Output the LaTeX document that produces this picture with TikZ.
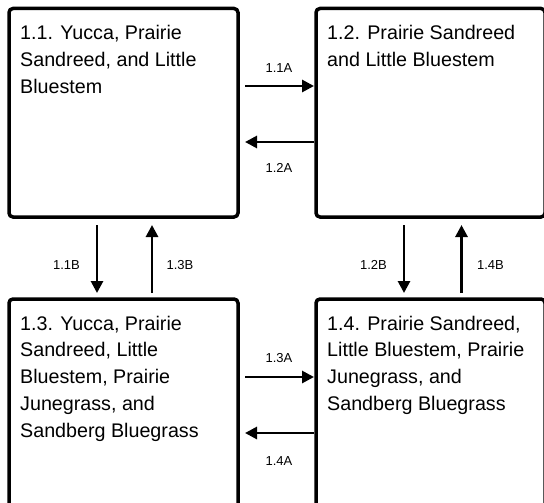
\documentclass[tikz,border=0pt]{standalone}
\usepackage{fontspec}
\setmainfont{Liberation Sans}
\usetikzlibrary{arrows.meta,calc}
\newcommand{\toprule}{\rule{0pt}{15pt}}
\begin{document}
\begin{tikzpicture}[x=1pt,y=-1pt,
  box/.style={draw, line width=3.5pt, rounded corners=4pt, minimum width=229pt, minimum height=208.5pt, inner sep=0pt, outer sep=0pt, anchor=north west},
  txt/.style={anchor=north west, inner sep=0pt, align=left, font=\fontsize{19.7}{26.7}\selectfont},
  arr/.style={line width=2.8pt, -{Triangle[length=12pt,width=12pt]}},
  lbl/.style={inner sep=0pt, font=\fontsize{13}{15}\selectfont}]
\useasboundingbox (0,0) rectangle (544,503);
\clip (0,0) rectangle (544,503);
\node[box] (b11) at (9,8.5) {};
\node[box] (b12) at (316,8.5) {};
\node[box] (b13) at (9,299) {};
\node[box] (b14) at (316,299) {};
\node[txt] (t11) at ($(b11.north west)+(11,16)$) {\toprule 1.1. Yucca, Prairie\\Sandreed, and Little\\Bluestem};
\node[txt] (t12) at ($(b12.north west)+(11,16)$) {\toprule 1.2. Prairie Sandreed\\and Little Bluestem};
\node[txt] (t13) at ($(b13.north west)+(11,16)$) {\toprule 1.3. Yucca, Prairie\\Sandreed, Little\\Bluestem, Prairie\\Junegrass, and\\Sandberg Bluegrass};
\node[txt] (t14) at ($(b14.north west)+(11,16)$) {\toprule 1.4. Prairie Sandreed,\\Little Bluestem, Prairie\\Junegrass, and\\Sandberg Bluegrass};
% y levels and x positions
\coordinate (ya) at (0,86);
\coordinate (yb) at (0,142);
\coordinate (yc) at (0,377);
\coordinate (yd) at (0,433);
\coordinate (xa) at (97,0);
\coordinate (xb) at (152,0);
\coordinate (xc) at (404,0);
\coordinate (xd) at (461.5,0);
% horizontal arrows
\draw[arr] ($(b11.east |- ya)+(7,0)$) -- ($(b12.west |- ya)+(-2,0)$);
\draw[arr] ($(b12.west |- yb)+(-2,0)$) -- ($(b11.east |- yb)+(7,0)$);
\draw[arr] ($(b13.east |- yc)+(7,0)$) -- ($(b14.west |- yc)+(-2,0)$);
\draw[arr] ($(b14.west |- yd)+(-2,0)$) -- ($(b13.east |- yd)+(7,0)$);
% vertical arrows
\draw[arr] ($(xa |- b11.south)+(0,8)$) -- ($(xa |- b13.north)+(0,-6)$);
\draw[arr] ($(xb |- b13.north)+(0,-6)$) -- ($(xb |- b11.south)+(0,8)$);
\draw[arr] ($(xc |- b12.south)+(0,8)$) -- ($(xc |- b14.north)+(0,-6)$);
\draw[arr] ($(xd |- b14.north)+(0,-6)$) -- ($(xd |- b12.south)+(0,8)$);
% labels
\node[lbl] (l11a) at (279,68) {1.1A};
\node[lbl] (l12a) at (279,168) {1.2A};
\node[lbl] (l13a) at (279,358) {1.3A};
\node[lbl] (l14a) at (279,461) {1.4A};
\node[lbl] (l11b) at (66.5,265) {1.1B};
\node[lbl] (l13b) at (180,265) {1.3B};
\node[lbl] (l12b) at (373.5,265) {1.2B};
\node[lbl] (l14b) at (490.5,265) {1.4B};
\end{tikzpicture}
\end{document}
